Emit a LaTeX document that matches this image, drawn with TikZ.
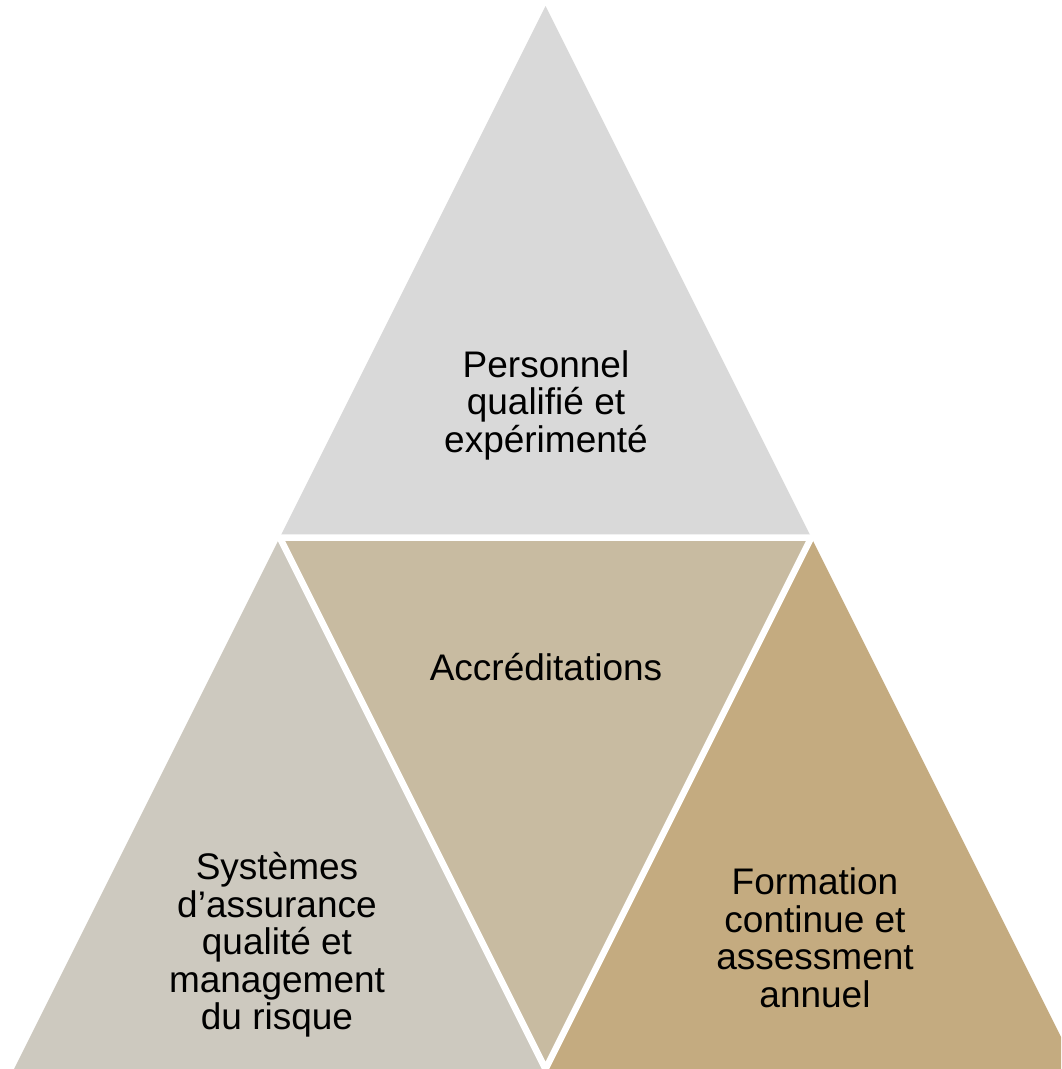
\documentclass[tikz,border=0pt]{standalone}
\usepackage{fontspec}
\setmainfont{Liberation Sans}
\definecolor{topgray}{RGB}{217,217,217}
\definecolor{midbeige}{RGB}{200,187,161}
\definecolor{leftgray}{RGB}{205,201,191}
\definecolor{rightgold}{RGB}{196,171,128}
\tikzset{
  lbl/.style={align=center, inner sep=0pt, text=black,
    font=\fontsize{37}{37.5}\selectfont},
  gapline/.style={draw=white, line width=6.5pt, line join=miter}
}
\begin{document}
\begin{tikzpicture}[x=1pt,y=-1pt]
\useasboundingbox (0,0) rectangle (1061,1069);
\fill[white] (0,0) rectangle (1061,1069);
\begin{scope}
\clip (0,0) rectangle (1061,1069);
\coordinate (A) at (545.5,6);
\coordinate (B) at (14,1069);
\coordinate (C) at (1077,1069);
\coordinate (L) at (279.75,537.5);
\coordinate (R) at (811.25,537.5);
\coordinate (M) at (545.5,1069);
\fill[topgray] (A) -- (L) -- (R) -- cycle;
\fill[leftgray] (L) -- (B) -- (M) -- cycle;
\fill[rightgold] (R) -- (M) -- (C) -- cycle;
\fill[midbeige] (L) -- (R) -- (M) -- cycle;
\draw[gapline] (L) -- (R) -- (M) -- cycle;
\end{scope}
\node[lbl] (top) at (546,405) {Personnel\\qualifié et\\expérimenté};
\node[lbl] (mid) at (546,667) {Accréditations};
\node[lbl] (left) at (277,945) {Systèmes\\d’assurance\\qualité et\\management\\du risque};
\node[lbl] (right) at (815,938) {Formation\\continue et\\assessment\\annuel};
\end{tikzpicture}
\end{document}
